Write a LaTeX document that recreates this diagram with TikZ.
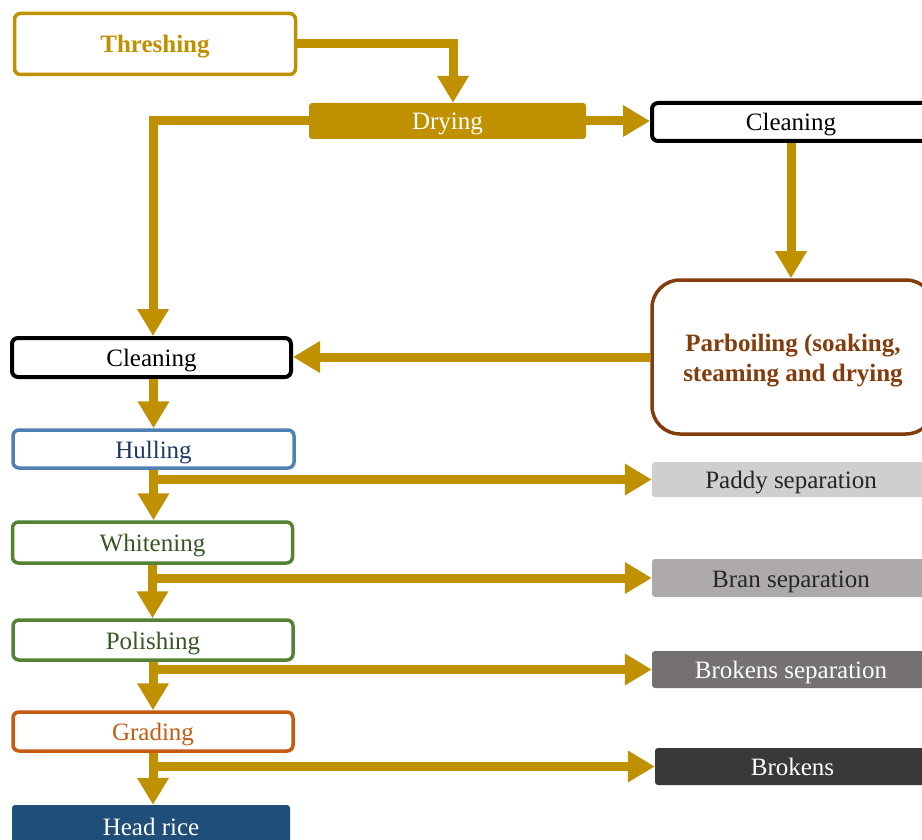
\documentclass[tikz,border=0pt]{standalone}
\usepackage{fontspec}
\setmainfont{Liberation Serif}
\usetikzlibrary{arrows.meta}
\definecolor{gold}{HTML}{BF9000}
\definecolor{parbrown}{HTML}{843C0C}
\definecolor{hulblue}{HTML}{4F81B4}
\definecolor{hultext}{HTML}{1F3864}
\definecolor{grnborder}{HTML}{548235}
\definecolor{grntext}{HTML}{375623}
\definecolor{orng}{HTML}{C55A11}
\definecolor{headblue}{HTML}{1F4E79}
\definecolor{gray1}{HTML}{D0CECE}
\definecolor{gray2}{HTML}{AEAAAA}
\definecolor{gray3}{HTML}{767171}
\definecolor{gray4}{HTML}{3B3838}
\definecolor{darktext}{HTML}{262626}
\begin{document}
\begin{tikzpicture}[x=1pt,y=-1pt,
  box/.style={rectangle, rounded corners=6pt, inner sep=0pt, align=center,
    text height=22pt, text depth=4pt,
    font=\fontsize{25}{30}\selectfont},
  outl/.style={box, draw=#1, line width=3.5pt, fill=white},
  filled/.style={box, fill=#1, rounded corners=3pt},
  arr/.style={draw=gold, line width=9pt, line join=miter,
    -{Triangle[width=30pt,length=27pt]}}]
\clip (0,0) rectangle (922,840);
\fill[white] (0,0) rectangle (922,840);
% nodes
\node[outl=gold, text=gold, font=\fontsize{25}{30}\selectfont\bfseries,
  minimum width=281pt, minimum height=61pt] (thr) at (155,44) {Threshing};
\node[filled=gold, text=white, minimum width=277pt, minimum height=36pt] (dry) at (447.5,121) {Drying};
\node[outl=black, line width=4pt, text=black, minimum width=278pt, minimum height=38pt] (cla) at (791,122) {Cleaning};
\node[outl=parbrown, text=parbrown, rounded corners=28pt,
  text height={}, text depth={},
  font=\fontsize{25}{30}\selectfont\bfseries,
  minimum width=282pt, minimum height=154pt] (parb) at (793,357) {\rule{0pt}{25pt}Parboiling (soaking,\\steaming and drying};
\node[outl=black, line width=4pt, text=black, minimum width=279pt, minimum height=39pt] (clb) at (151.5,357.5) {Cleaning};
\node[outl=hulblue, text=hultext, minimum width=281pt, minimum height=38pt] (hul) at (153.5,449) {Hulling};
\node[filled=gray1, text=darktext, minimum width=278pt, minimum height=35pt] (pad) at (791,479.5) {Paddy separation};
\node[outl=grnborder, text=grntext, minimum width=280pt, minimum height=41pt] (whi) at (152.5,542.5) {Whitening};
\node[filled=gray2, text=darktext, minimum width=278pt, minimum height=38pt] (bran) at (791,578) {Bran separation};
\node[outl=grnborder, text=grntext, minimum width=280pt, minimum height=40pt] (pol) at (153,640) {Polishing};
\node[filled=gray3, text=white, minimum width=278pt, minimum height=37pt] (bsep) at (791,669.5) {Brokens separation};
\node[outl=orng, text=orng, minimum width=280pt, minimum height=39pt] (gra) at (153,731.5) {Grading};
\node[filled=gray4, text=white, minimum width=275pt, minimum height=37pt] (brk) at (792.5,766.5) {Brokens};
\node[filled=headblue, text=white, minimum width=278pt, minimum height=42pt] (head) at (151,826) {Head rice};
% connectors
\draw[arr] (thr.east) -| ([xshift=5.5pt]dry.north);
\draw[arr] (dry.west) -| ([xshift=1.5pt]clb.north);
\draw[arr] (dry.east) -- (dry.east -| cla.west);
\draw[arr] (cla.south) -- (cla.south |- parb.north);
\draw[arr] (parb.west) -- (parb.west -| clb.east);
\draw[arr] (clb.south -| hul.north) -- (hul.north);
\draw[arr] (hul.south) -- (hul.south |- whi.north);
\draw[arr] (hul.south |- pad.west) -- (pad.west);
\draw[arr] (whi.south) -- (whi.south |- pol.north);
\draw[arr] (whi.south |- bran.west) -- (bran.west);
\draw[arr] (pol.south) -- (pol.south |- gra.north);
\draw[arr] (pol.south |- bsep.west) -- (bsep.west);
\draw[arr] (gra.south) -- (gra.south |- head.north);
\draw[arr] (gra.south |- brk.west) -- (brk.west);
\end{tikzpicture}
\end{document}
